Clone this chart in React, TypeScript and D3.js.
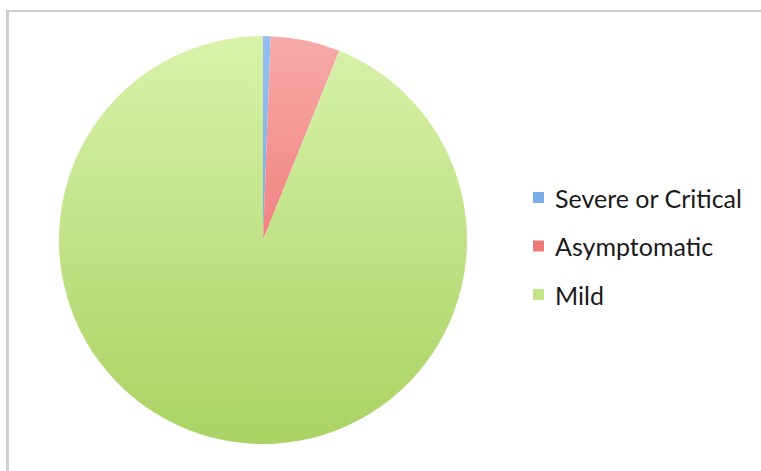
import React from "react";
import * as d3 from "d3";

const categories = ["Severe or Critical", "Asymptomatic", "Mild"];
const values = [0.6, 5.5, 93.9];
const topColors = ["#94bff0", "#f7aaa8", "#d8f2ab"];
const bottomColors = ["#6a9edc", "#e8605e", "#aad263"];
const legendColors = ["#7aaee6", "#ee7a78", "#c2e487"];

const W = 761;
const H = 471;
const cx = 263;
const cy = 240;
const R = 204;

export default function App() {
  const pie = d3.pie<number>().sort(null).value((d) => d)(values);
  const arc = d3.arc<d3.PieArcDatum<number>>().innerRadius(0).outerRadius(R);
  const legendY = d3.scalePoint<string>().domain(categories).range([199, 296]);
  return (
    <svg width={W} height={H} style={{ position: "absolute", left: 0, top: 0 }}>
      <defs>
        {categories.map((c, i) => (
          <linearGradient key={c} id={`g${i}`} gradientUnits="userSpaceOnUse" x1={0} y1={-R} x2={0} y2={R}>
            <stop offset="0" stopColor={topColors[i]} />
            <stop offset={i === 1 ? "0.95" : "1"} stopColor={bottomColors[i]} />
          </linearGradient>
        ))}
        <filter id="blur" x="-10%" y="-10%" width="120%" height="120%">
          <feGaussianBlur stdDeviation="0.7" />
        </filter>
      </defs>
      <rect x={0} y={0} width={W} height={H} fill="#ffffff" />
      <line x1={7.5} y1={10} x2={7.5} y2={H} stroke="#cfcfcf" strokeWidth={3} />
      <line x1={6} y1={11} x2={W} y2={11} stroke="#cfcfcf" strokeWidth={2} />
      <g transform={`translate(${cx},${cy})`} filter="url(#blur)">
        {pie.map((p, i) => (
          <path key={categories[i]} d={arc(p) || ""} fill={`url(#g${i})`} />
        ))}
      </g>
      {categories.map((c, i) => (
        <g key={c} transform={`translate(533,${legendY(c)})`}>
          <rect x={0} y={-7} width={11} height={11} fill={legendColors[i]} />
          <text x={22} y={0} dy="0.35em" fontFamily="Lato, 'Open Sans', sans-serif" fontSize={25} fill="#1a1a1a">
            {c}
          </text>
        </g>
      ))}
    </svg>
  );
}
